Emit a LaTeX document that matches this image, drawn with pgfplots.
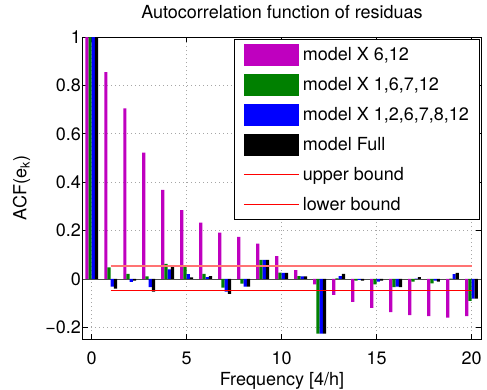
\documentclass[border=0pt]{standalone}
\usepackage{pgfplots}
\pgfplotsset{compat=1.18}
\usepackage{pgfplotstable}
\usepackage{fontspec}
\setmainfont{TeX Gyre Heros}
\definecolor{mmag}{rgb}{0.75,0,0.75}
\definecolor{mgreen}{rgb}{0,0.5,0}
\definecolor{mblue}{rgb}{0,0,1}

\pgfplotstableread{
lag M G B K
0 1 1 1 1
1 0.855 0.048 -0.032 -0.040
2 0.705 0.021 -0.012 -0.007
3 0.522 0.011 -0.034 -0.052
4 0.368 0.062 0.040 0.050
5 0.285 0.050 0.020 0.007
6 0.233 0.021 0.008 0.012
7 0.192 -0.036 -0.052 -0.061
8 0.174 -0.019 -0.032 -0.032
9 0.146 0.079 0.079 0.079
10 0.095 0.026 0.025 0.025
11 0.037 0.012 0.011 0.011
12 -0.022 -0.226 -0.226 -0.226
13 -0.066 0.003 0.012 0.021
14 -0.095 -0.007 -0.004 -0.007
15 -0.119 -0.022 -0.011 -0.007
16 -0.137 -0.034 -0.032 -0.034
17 -0.149 -0.011 0.002 0.008
18 -0.153 -0.018 -0.007 -0.011
19 -0.160 0.001 0.020 0.025
20 -0.153 -0.090 -0.081 -0.081
}\acf

\pgfplotstableread{
x up low
1 0.054 -0.046
20 0.054 -0.046
}\bounds

\begin{document}
\begin{tikzpicture}
\useasboundingbox (-83pt,-50pt) rectangle (404pt,339pt);
\begin{axis}[
  at={(0pt,0pt)}, anchor=south west,
  scale only axis, width=398pt, height=302pt,
  xmin=-0.46, xmax=20.5, ymin=-0.248, ymax=1,
  xtick={0,5,10,15,20}, xticklabels={0,5,10,15,20},
  ytick={-0.2,0,0.2,0.4,0.6,0.8,1},
  yticklabels={−0.2,0,0.2,0.4,0.6,0.8,1},
  font=\fontsize{18}{21}\selectfont,
  tick label style={font=\fontsize{18}{21}\selectfont},
  xticklabel style={anchor=base, yshift=-25pt},
  yticklabel style={anchor=east, inner xsep=2pt},
  tick align=inside, major tick length=5pt,
  axis line style={line width=1pt},
  every tick/.style={black, line width=0.7pt},
  grid=major,
  major grid style={gray!70, line width=0.8pt, dash pattern=on 0.8pt off 3.2pt},
  title={Autocorrelation function of residuas},
  title style={anchor=base, yshift=13pt, font=\fontsize{18}{21}\selectfont},
  xlabel={Frequency [4/h]},
  xlabel style={at={(axis description cs:0.5,0)}, anchor=base, yshift=-46pt},
  ylabel={ACF(e\textsubscript{k})},
  every axis y label/.style={at={(axis description cs:0,0.5)}, rotate=90, anchor=base, yshift=56.5pt},
  legend cell align=left,
  legend style={at={(axis description cs:1,1)}, anchor=north east, xshift=-1pt, yshift=-2pt,
    draw=black, line width=1pt, fill=white, inner xsep=9pt, inner ysep=4pt,
    row sep=8pt, column sep=2pt, font=\fontsize{18}{21}\selectfont,
    nodes={inner sep=1.5pt}},
]
\addplot[forget plot, gray!60!black, line width=0.8pt] coordinates {(-0.46,0) (20.5,0)};
\addplot[ybar, bar width=0.17, bar shift=-0.255, fill=mmag, draw=none,
  legend image code/.code={\fill[mmag] (0pt,-11pt) rectangle (55pt,11pt);}]
  table[x=lag, y=M] {\acf};
\addlegendentry{model X 6,12}
\addplot[ybar, bar width=0.17, bar shift=-0.085, fill=mgreen, draw=none,
  legend image code/.code={\fill[mgreen] (0pt,-11pt) rectangle (55pt,11pt);}]
  table[x=lag, y=G] {\acf};
\addlegendentry{model X 1,6,7,12}
\addplot[ybar, bar width=0.17, bar shift=0.085, fill=mblue, draw=none,
  legend image code/.code={\fill[mblue] (0pt,-11pt) rectangle (55pt,11pt);}]
  table[x=lag, y=B] {\acf};
\addlegendentry{model X 1,2,6,7,8,12\hspace{5pt}}
\addplot[ybar, bar width=0.17, bar shift=0.255, fill=black, draw=none,
  legend image code/.code={\fill[black] (0pt,-11pt) rectangle (55pt,11pt);}]
  table[x=lag, y=K] {\acf};
\addlegendentry{model Full}
\addplot[red!55, line width=1.8pt,
  legend image code/.code={\path[draw=none, fill=none] (0pt,-11pt) rectangle (55pt,11pt); \draw[red, line width=1pt] (0pt,0pt) -- (55pt,0pt);}]
  table[x=x, y=up] {\bounds};
\addlegendentry{upper bound}
\addplot[red, line width=0.8pt,
  legend image code/.code={\path[draw=none, fill=none] (0pt,-11pt) rectangle (55pt,11pt); \draw[red, line width=1pt] (0pt,0pt) -- (55pt,0pt);}]
  table[x=x, y=low] {\bounds};
\addlegendentry{lower bound}
\end{axis}
\end{tikzpicture}
\end{document}
